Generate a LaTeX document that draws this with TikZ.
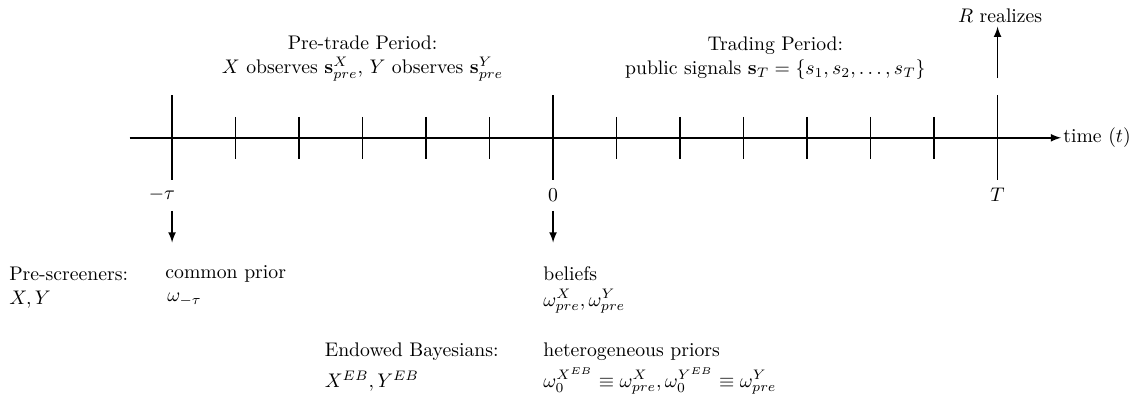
\documentclass[tikz,border=0pt]{standalone}
\usepackage{amsmath,amssymb}
\usetikzlibrary{positioning, calc}
\tikzset{
  axisline/.style={thick},
  tickline/.style={thick},
  flowarrow/.style={thick, -latex},
  lbl/.style={anchor=west, inner sep=0pt},
}
\newcommand{\tickat}[2]{%
  \draw[tickline] (#1,#2) -- (#1,-#2);
}

\begin{document}
\begin{tikzpicture}[x=1.133cm,y=1.133cm]
\useasboundingbox (-8.71,-4.31) rectangle (9.18,2.17);
% time axis
\coordinate (axL) at (-6.67,0);
\coordinate (axR) at (8,0);
\draw[axisline, -latex] (axL) -- (axR);
\node[anchor=west, inner sep=1pt] (tlab) at (axR) {time $(t)$};
% ticks
\foreach \x in {-5,...,-1,1,2,...,6} {\tickat{\x}{0.33}}
\tickat{-6}{0.67}
\tickat{0}{0.67}
\tickat{7}{0.67}
\node (lmtau) at (-6.16,-0.9) {$-\tau$};
\node (lzero) at (0,-0.9) {$0$};
\node (lT) at (7,-0.9) {$T$};
% periods
\node[align=center] (pre) at (-3,1.25) {Pre-trade Period:\\ $X$ observes $\mathbf{s}^X_{pre}$, $Y$ observes $\mathbf{s}^Y_{pre}$};
\node[align=center] (trade) at (3.5,1.25) {Trading Period:\\ public signals $\mathbf{s}_T=\{s_1,s_2,\dots,s_T\}$};
% realization
\coordinate (upS) at (7,0.94);
\coordinate (upE) at (7,1.75);
\draw[flowarrow] (upS) -- (upE);
\node (real) at (7.04,1.92) {$R$ realizes};
% down arrows
\coordinate (dmS) at (-6,-1.15);
\coordinate (dmE) at (-6,-1.65);
\coordinate (dzS) at (0,-1.15);
\coordinate (dzE) at (0,-1.65);
\draw[flowarrow] (dmS) -- (dmE);
\draw[flowarrow] (dzS) -- (dzE);
% agents
\node[lbl] (ps) at (-8.57,-2.14) {Pre-screeners:};
\node[lbl] (psn) at (-8.57,-2.55) {$X,Y$};
\node[lbl] (cp) at (-6.11,-2.14) {common prior};
\node[lbl] (cpw) at (-6.08,-2.55) {$\omega_{-\tau}$};
\node[lbl] (bel) at (-0.16,-2.14) {beliefs};
\node[lbl] (belw) at (-0.16,-2.58) {$\omega^X_{pre},\omega^Y_{pre}$};
\node[lbl] (eb) at (-3.6,-3.37) {Endowed Bayesians:};
\node[lbl] (ebn) at (-3.6,-3.83) {$X^{EB},Y^{EB}$};
\node[lbl] (hp) at (-0.16,-3.37) {heterogeneous priors};
\node[lbl] (hpw) at (-0.16,-3.83) {$\omega_0^{X^{EB}}\equiv\omega^X_{pre},\omega_0^{Y^{EB}}\equiv\omega^Y_{pre}$};
\end{tikzpicture}
\end{document}
